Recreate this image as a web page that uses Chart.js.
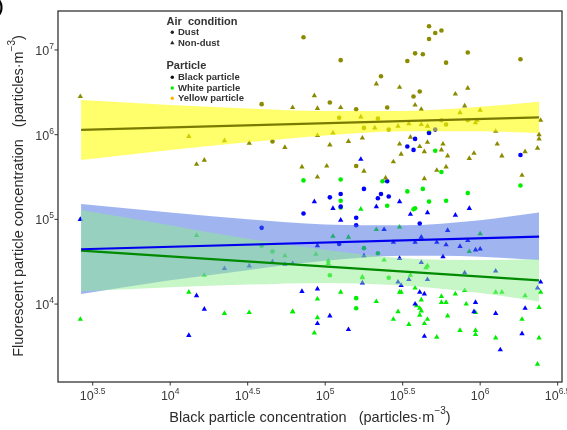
<!DOCTYPE html>
<html>
<head>
<meta charset="utf-8">
<script src="https://cdn.jsdelivr.net/npm/chart.js@4.4.1/dist/chart.umd.min.js"></script>
<style>
html, body { margin: 0; padding: 0; background: #fff; }
#wrap { width: 567px; height: 430px; position: relative; }
</style>
</head>
<body>
<div id="wrap"><canvas id="myChart"></canvas></div>
<script>
// values are log10 of the concentrations: [black particle, fluorescent particle]
var yellowDust = [
    [4.86,7.15],[5.10,6.88],[5.67,7.28],[5.71,7.20],[5.75,7.23],[5.67,7.13],[5.58,6.96],[5.63,6.95],
    [5.53,6.87],[5.78,6.85],[5.92,6.97],[6.26,6.89],[5.36,6.69],[5.61,6.51],[5.57,6.45],[5.03,6.38],
    [5.40,6.32],[5.20,6.30],[5.09,6.20],[5.34,6.19],[5.25,6.08],[5.41,6.06],[5.20,5.63],[5.75,6.17],
    [5.78,6.12],[5.92,6.17],[4.59,6.36],[4.66,5.92]
];
var yellowNonDust = [
    [3.42,6.45],[4.79,6.32],[4.93,6.46],[4.95,6.31],[5.10,6.32],[5.33,6.60],[5.48,6.56],[5.58,6.35],
    [5.62,6.30],[5.84,6.48],[5.92,6.55],[5.90,6.34],[5.87,6.26],[6.00,6.29],[5.23,6.21],[5.32,6.08],
    [5.47,6.10],[5.54,6.13],[5.62,6.12],[5.66,6.10],[5.97,6.14],[5.98,6.17],[6.39,6.17],[5.05,6.02],
    [4.95,5.99],[4.74,5.85],[5.03,5.88],[5.15,5.92],[5.24,5.96],[5.48,5.89],[5.55,5.97],[5.61,5.86],
    [5.66,5.91],[5.76,5.89],[5.75,5.82],[5.64,5.80],[5.49,5.77],[5.79,5.75],[5.96,5.78],[5.93,5.72],
    [6.10,6.04],[6.11,5.89],[6.14,5.75],[6.38,6.00],[6.38,5.95],[6.37,5.84],[6.29,5.80],[4.85,5.62],
    [5.01,5.63],[5.25,5.57],[5.44,5.68],[5.78,5.62],[5.72,5.58],[4.95,5.50],[5.39,5.49],[5.64,5.48],
    [6.27,5.52],[4.12,5.98],[4.35,5.93],[4.51,5.90],[4.17,5.65],[4.22,5.70]
];
var blackDust = [
    [5.58,5.95],[5.53,5.86],[5.57,5.82],[5.71,6.06],[5.67,6.02],[6.26,5.76],[5.40,5.45],[5.25,5.36],
    [5.10,5.30],[5.03,5.26],[5.36,5.30],[5.34,5.25],[5.41,5.27],[5.10,5.15],[4.86,5.07],[5.20,5.02],
    [5.20,4.93],[5.61,4.95],[5.09,4.71],[4.59,4.90]
];
var blackNonDust = [
    [5.23,5.71],[4.93,5.21],[5.05,5.13],[5.33,5.15],[5.48,5.21],[5.10,4.99],[5.55,5.06],[5.66,5.08],
    [5.84,5.05],[5.93,5.13],[5.38,4.88],[5.79,4.87],[4.95,4.69],[5.44,4.73],[5.58,4.73],[5.62,4.79],
    [5.72,4.73],[5.78,4.70],[5.87,4.68],[5.92,4.75],[5.97,4.64],[6.00,4.65],[5.25,4.57],[5.48,4.54],
    [5.76,4.56],[5.62,4.49],[5.90,4.37],[6.10,4.39],[5.54,4.29],[5.66,4.29],[5.24,4.25],[5.47,4.26],
    [5.49,4.22],[6.39,4.26],[6.37,4.19],[4.85,4.15],[4.95,4.18],[5.61,4.14],[5.64,4.12],[5.58,4.00],
    [5.97,4.02],[5.96,3.91],[6.10,3.89],[6.29,3.95],[5.03,3.86],[4.95,3.77],[5.15,3.70],[5.64,3.62],
    [6.27,3.65],[6.13,3.46],[3.42,5.00],[4.35,4.42],[4.51,4.45],[4.66,4.50],[4.74,4.47],[4.79,4.48],
    [4.17,4.10],[4.22,3.94],[4.12,3.63]
];
var whiteDust = [
    [5.67,6.03],[5.71,5.81],[5.75,5.56],[4.86,5.46],[5.10,5.47],[5.37,5.45],[5.53,5.33],[5.63,5.36],
    [5.92,5.31],[6.26,5.40],[5.10,5.22],[5.10,5.14],[5.40,5.16],[5.67,5.21],[5.78,5.22],[5.57,5.12],
    [5.58,5.13],[5.25,4.66],[5.34,4.60],[5.03,4.34],[5.41,4.31],[5.20,4.07],[5.20,3.95],[4.59,4.69],
    [4.66,4.62]
];
var whiteNonDust = [
    [5.23,5.12],[5.05,4.80],[5.15,4.79],[5.33,4.88],[5.48,4.91],[6.00,4.83],[5.93,4.62],[4.74,4.57],
    [4.94,4.59],[5.02,4.51],[5.02,4.48],[5.38,4.52],[5.65,4.43],[5.66,4.45],[5.55,4.34],[5.24,4.32],
    [5.24,4.31],[5.10,4.14],[5.48,4.14],[5.49,4.14],[5.58,4.19],[5.84,4.12],[5.90,4.16],[6.10,4.14],
    [6.14,4.14],[6.29,4.10],[6.39,4.14],[4.95,4.06],[5.33,4.03],[5.75,4.09],[5.75,4.02],[5.78,4.02],
    [5.62,4.05],[5.91,4.00],[6.38,3.96],[4.79,3.91],[5.47,3.91],[5.59,3.98],[5.61,3.95],[5.62,3.92],
    [5.97,3.90],[5.79,3.86],[4.95,3.84],[5.44,3.82],[5.54,3.76],[5.66,3.82],[5.61,3.87],[5.64,3.77],
    [6.27,3.82],[4.93,3.66],[5.87,3.69],[5.97,3.69],[5.97,3.64],[5.72,3.61],[6.10,3.60],[6.38,3.60],
    [6.37,3.29],[4.17,4.81],[4.22,4.34],[4.12,4.14],[4.35,3.89],[4.51,3.90],[4.79,3.91],[3.42,3.82]
];

// fitted lines and confidence bands (log10)
var fitX = [3.425, 6.38];
var yellowFit = [6.056, 6.205];
var blackFit = [4.647, 4.796];
var whiteFit = [4.63, 4.28];

var bandX = [3.425, 4.0, 4.5, 5.0, 5.5, 6.0, 6.38];
var yellowUpper = [6.41, 6.35, 6.31, 6.28, 6.28, 6.33, 6.39];
var yellowLower = [5.70, 5.82, 5.91, 5.99, 6.04, 6.04, 6.02];
var blackUpper = [5.18, 5.08, 5.00, 4.94, 4.93, 4.99, 5.08];
var blackLower = [4.12, 4.28, 4.40, 4.51, 4.57, 4.56, 4.52];
var whiteUpper = [5.11, 4.93, 4.77, 4.64, 4.54, 4.52, 4.53];
var whiteLower = [4.15, 4.20, 4.23, 4.25, 4.22, 4.13, 4.03];

var xTicks = [3.5, 4, 4.5, 5, 5.5, 6, 6.5];
var xTickLabels = ['3.5', '4', '4.5', '5', '5.5', '6', '6.5'];
var yTicks = [4, 5, 6, 7];
var yTickLabels = ['4', '5', '6', '7'];

var FONT = '"Liberation Sans", Arial, sans-serif';

function pts(arr) {
    return arr.map(p => ({ x: p[0], y: p[1] }));
}
function zip(xs, ys) {
    return xs.map((x, i) => ({ x: x, y: ys[i] }));
}

function pointSet(data, color, style) {
    return {
        type: 'scatter',
        data: pts(data),
        backgroundColor: color,
        borderColor: color,
        borderWidth: 0,
        pointStyle: style,
        pointRadius: style === 'triangle' ? 3.1 : 2.3,
        order: 3
    };
}
function bandSet(xs, ys, color, fill, order) {
    return {
        type: 'line',
        data: zip(xs, ys),
        borderColor: 'transparent',
        borderWidth: 0,
        pointRadius: 0,
        backgroundColor: color,
        fill: fill,
        cubicInterpolationMode: 'monotone',
        order: order
    };
}
function fitSet(ys, color) {
    return {
        type: 'line',
        data: zip(fitX, ys),
        borderColor: color,
        borderWidth: 2.2,
        pointRadius: 0,
        fill: false,
        order: 1
    };
}

// draws "10" with a superscript exponent
function drawPow(ctx, exp, left, midY) {
    ctx.textBaseline = 'middle';
    ctx.textAlign = 'left';
    ctx.font = '12.5px ' + FONT;
    var wb = ctx.measureText('10').width;
    ctx.fillText('10', left, midY);
    ctx.font = '8.5px ' + FONT;
    ctx.fillText(exp, left + wb, midY - 5);
}
function powWidth(ctx, exp) {
    ctx.font = '12.5px ' + FONT;
    var w = ctx.measureText('10').width;
    ctx.font = '8.5px ' + FONT;
    return w + ctx.measureText(exp).width;
}

// title with superscript parts: [[text, isSup], ...]
function drawTitle(ctx, parts, cx, cy) {
    var widths = parts.map(p => {
        ctx.font = (p[1] ? '10px ' : '14.5px ') + FONT;
        return ctx.measureText(p[0]).width;
    });
    var total = widths.reduce((a, b) => a + b, 0);
    var x = cx - total / 2;
    ctx.textBaseline = 'middle';
    ctx.textAlign = 'left';
    parts.forEach((p, i) => {
        ctx.font = (p[1] ? '10px ' : '14.5px ') + FONT;
        ctx.fillText(p[0], x, p[1] ? cy - 7 : cy);
        x += widths[i];
    });
}

var decorPlugin = {
    id: 'decor',
    afterDraw(chart) {
        var ctx = chart.ctx;
        var a = chart.chartArea;
        var xs = chart.scales.x, ys = chart.scales.y;
        ctx.save();

        // frame
        ctx.strokeStyle = '#333';
        ctx.lineWidth = 1.3;
        ctx.strokeRect(a.left, a.top, a.right - a.left, a.bottom - a.top);

        // ticks + labels
        ctx.fillStyle = '#3a3a3a';
        ctx.lineWidth = 1;
        yTicks.forEach((v, i) => {
            var py = ys.getPixelForValue(v);
            ctx.beginPath();
            ctx.moveTo(a.left - 3.5, py);
            ctx.lineTo(a.left, py);
            ctx.stroke();
            var w = powWidth(ctx, yTickLabels[i]);
            drawPow(ctx, yTickLabels[i], a.left - 4 - w, py + 1.5);
        });
        xTicks.forEach((v, i) => {
            var px = xs.getPixelForValue(v);
            ctx.beginPath();
            ctx.moveTo(px, a.bottom);
            ctx.lineTo(px, a.bottom + 3.5);
            ctx.stroke();
            var w = powWidth(ctx, xTickLabels[i]);
            drawPow(ctx, xTickLabels[i], px - w / 2, a.bottom + 15);
        });

        // axis titles
        ctx.fillStyle = '#2b2b2b';
        drawTitle(ctx, [['Black particle concentration   (particles\u00b7m', false], ['\u22123', true], [')', false]], 310, 418);
        ctx.save();
        ctx.translate(19, 196);
        ctx.rotate(-Math.PI / 2);
        drawTitle(ctx, [['Fluorescent particle concentration   (particles\u00b7m', false], ['\u22123', true], [')', false]], 0, 0);
        ctx.restore();

        // panel letter (cropped)
        ctx.font = 'bold 16px ' + FONT;
        ctx.textBaseline = 'alphabetic';
        ctx.fillStyle = '#000';
        ctx.fillText(')', -2, 12);

        // legend
        ctx.fillStyle = '#333';
        ctx.textBaseline = 'middle';
        ctx.font = 'bold 11px ' + FONT;
        ctx.fillText('Air  condition', 166.5, 21.5);
        ctx.fillText('Particle', 166.5, 66);
        ctx.font = 'bold 9.5px ' + FONT;
        ctx.fillText('Dust', 178, 32.5);
        ctx.fillText('Non-dust', 178, 43);
        ctx.fillText('Black particle', 178, 77.5);
        ctx.fillText('White particle', 178, 88);
        ctx.fillText('Yellow particle', 178, 98.5);

        ctx.fillStyle = '#222';
        ctx.beginPath();
        ctx.arc(172.3, 32.3, 1.7, 0, Math.PI * 2);
        ctx.fill();
        ctx.beginPath();
        ctx.moveTo(172.3, 40.6);
        ctx.lineTo(174.4, 44.2);
        ctx.lineTo(170.2, 44.2);
        ctx.closePath();
        ctx.fill();
        [['#111', 77.3], ['#00ee00', 88], ['#ffb400', 98.3]].forEach(d => {
            ctx.fillStyle = d[0];
            ctx.beginPath();
            ctx.arc(172.3, d[1], 1.7, 0, Math.PI * 2);
            ctx.fill();
        });
        ctx.restore();
    }
};

var ctx = document.getElementById('myChart').getContext('2d');
var myChart = new Chart(ctx, {
    type: 'scatter',
    data: {
        datasets: [
            pointSet(yellowDust, '#8b8b00', 'circle'),
            pointSet(yellowNonDust, '#8b8b00', 'triangle'),
            pointSet(blackDust, '#0000ff', 'circle'),
            pointSet(blackNonDust, '#0000ff', 'triangle'),
            pointSet(whiteDust, '#00ee00', 'circle'),
            pointSet(whiteNonDust, '#00ee00', 'triangle'),
            bandSet(bandX, yellowUpper, 'rgba(255,255,0,0.58)', '+1', 2),
            bandSet(bandX, yellowLower, 'transparent', false, 2),
            bandSet(bandX, blackUpper, 'rgba(65,105,225,0.5)', '+1', 2),
            bandSet(bandX, blackLower, 'transparent', false, 2),
            bandSet(bandX, whiteUpper, 'rgba(144,238,144,0.5)', '+1', 1.5),
            bandSet(bandX, whiteLower, 'transparent', false, 1.5),
            fitSet(yellowFit, '#7a7a00'),
            fitSet(blackFit, '#0000ee'),
            fitSet(whiteFit, '#008a00')
        ]
    },
    options: {
        responsive: true,
        maintainAspectRatio: false,
        animation: false,
        layout: { padding: { top: 11, right: 5, left: 0, bottom: 0 } },
        plugins: {
            legend: { display: false },
            tooltip: { enabled: false }
        },
        scales: {
            x: {
                type: 'linear',
                min: 3.276,
                max: 6.528,
                grid: { display: false },
                border: { display: false },
                ticks: { display: false },
                afterFit: s => { s.height = 48; }
            },
            y: {
                type: 'linear',
                min: 3.08,
                max: 7.46,
                grid: { display: false },
                border: { display: false },
                ticks: { display: false },
                afterFit: s => { s.width = 58; }
            }
        }
    },
    plugins: [decorPlugin]
});
</script>
</body>
</html>
